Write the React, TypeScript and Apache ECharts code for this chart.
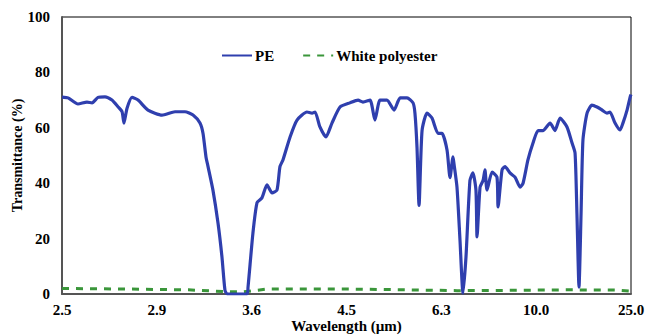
import React, { useEffect, useRef } from "react";
import * as echarts from "echarts";

// Wavenumber (cm^-1) positions of x ticks and their wavelength labels (µm)
const xTickWavenumbers = [4000, 3400, 2800, 2200, 1600, 1000, 400];
const xTickLabels = ["2.5", "2.9", "3.6", "4.5", "6.3", "10.0", "25.0"];

// PE transmittance spectrum: [wavenumber, transmittance %]
const peWavenumber = [
  4000, 3962, 3899, 3842, 3810, 3772, 3728, 3684, 3646, 3620, 3608, 3589, 3557, 3519,
  3456, 3367, 3285, 3222, 3171, 3127, 3108, 3089, 3076, 3045, 3013, 2988, 2969, 2955,
  2830, 2823, 2792, 2766, 2735, 2703, 2671, 2640, 2621, 2602, 2557, 2513, 2450, 2418,
  2399, 2368, 2330, 2292, 2241, 2178, 2127, 2096, 2051, 2020, 1988, 1944, 1899, 1861,
  1817, 1779, 1767, 1754, 1741, 1722, 1691, 1659, 1621, 1596, 1564, 1545, 1526, 1520,
  1501, 1482, 1463, 1444, 1419, 1400, 1381, 1374, 1355, 1336, 1324, 1311, 1279, 1248,
  1241, 1216, 1197, 1166, 1134, 1102, 1083, 1052, 1020, 988, 957, 912, 881, 849, 805,
  773, 754, 742, 729, 716, 704, 678, 647, 615, 583, 552, 533, 501, 470, 451, 425, 406, 400,
];
const peTransmittance = [
  71.1, 70.8, 68.6, 69.3, 69.0, 71.0, 71.2, 70.0, 67.6, 65.8, 61.7, 67.0, 71.0, 70.0,
  66.4, 64.6, 65.8, 65.8, 64.6, 61.7, 58.0, 49.5, 46.0, 37.5, 25.6, 13.4, 1.4, 0.0,
  0.0, 2.5, 22.0, 33.0, 34.7, 39.4, 36.5, 37.5, 46.0, 48.4, 56.7, 62.8, 65.7, 65.3,
  65.7, 60.3, 56.7, 61.7, 67.5, 69.0, 70.0, 69.3, 70.0, 62.8, 70.0, 70.0, 66.4, 70.8,
  70.8, 69.0, 65.3, 53.0, 32.0, 59.0, 65.3, 63.5, 58.0, 58.0, 52.0, 42.0, 49.5, 47.0,
  38.6, 19.5, 0.3, 13.4, 41.0, 43.7, 37.5, 20.6, 38.6, 41.0, 44.8, 37.5, 44.0, 42.2,
  31.4, 44.8, 46.0, 43.7, 42.2, 38.6, 40.0, 48.4, 54.5, 59.0, 59.0, 61.7, 59.0, 63.5, 60.3,
  54.5, 50.9, 29.0, 2.5, 29.0, 55.6, 65.3, 68.2, 67.5, 66.4, 65.3, 65.7, 61.7, 59.2, 61.7, 66.4, 71.0, 72.0,
];

// White polyester transmittance: [wavenumber, transmittance %]
const polyWavenumber = [4000, 3600, 3200, 2950, 2850, 2700, 2200, 1800, 1500, 1200, 800, 500, 400];
const polyTransmittance = [2.0, 1.8, 1.5, 0.8, 0.8, 1.8, 1.8, 1.5, 1.2, 1.3, 1.5, 1.4, 1.0];

const FONT = "'Liberation Serif', 'Times New Roman', serif";

export default function App() {
  const ref = useRef<HTMLDivElement>(null);
  useEffect(() => {
    if (!ref.current) return;
    const chart = echarts.init(ref.current, null, { renderer: "svg" });
    const peData = peWavenumber.map((w, i) => [w, peTransmittance[i]]);
    const polyData = polyWavenumber.map((w, i) => [w, polyTransmittance[i]]);
    chart.setOption({
      animation: false,
      backgroundColor: "#fff",
      grid: {
        left: 62,
        right: 15,
        top: 17,
        bottom: 41,
        show: true,
        borderColor: "#000",
        borderWidth: 1,
        containLabel: false,
        outerBoundsMode: "none",
      },
      legend: {
        top: 43,
        left: 216,
        itemGap: 28,
        itemWidth: 30,
        itemHeight: 10,
        itemStyle: { opacity: 0 },
        textStyle: { fontFamily: FONT, fontWeight: "bold", fontSize: 15, color: "#000", padding: [0, 0, 0, -2] },
        data: ["PE", "White polyester"],
      },
      xAxis: {
        type: "value",
        min: 400,
        max: 4000,
        inverse: true,
        name: "Wavelength (µm)",
        nameLocation: "middle",
        nameGap: 24,
        nameMoveOverlap: false,
        nameTextStyle: { fontFamily: FONT, fontWeight: "bold", fontSize: 15, color: "#000" },
        axisLine: { show: true, onZero: false, lineStyle: { color: "#555", width: 2 } },
        axisTick: { show: false },
        splitLine: { show: false },
        axisLabel: {
          customValues: xTickWavenumbers,
          margin: 8,
          fontFamily: FONT,
          fontWeight: "bold",
          fontSize: 15,
          color: "#000",
          formatter: (v: number) => {
            const i = xTickWavenumbers.indexOf(v);
            return i >= 0 ? xTickLabels[i] : "";
          },
        },
      },
      yAxis: {
        type: "value",
        min: 0,
        max: 100,
        interval: 20,
        name: "Transmittance (%)",
        nameLocation: "middle",
        nameGap: 38,
        nameMoveOverlap: false,
        nameTextStyle: { fontFamily: FONT, fontWeight: "bold", fontSize: 14, color: "#000" },
        axisLine: { show: true, lineStyle: { color: "#555", width: 2 } },
        axisTick: { show: false },
        splitLine: { show: false },
        axisLabel: { margin: 12, fontFamily: FONT, fontWeight: "bold", fontSize: 15, color: "#000" },
      },
      series: [
        {
          name: "PE",
          type: "line",
          data: peData,
          symbol: "none",
          smooth: 0.2,
          lineStyle: { color: "#2F3FAE", width: 3.2 },
          itemStyle: { color: "#2F3FAE" },
          z: 3,
        },
        {
          name: "White polyester",
          type: "line",
          data: polyData,
          symbol: "none",
          lineStyle: { color: "#3A963A", width: 3, type: [7, 7] },
          itemStyle: { color: "#3A963A" },
          z: 2,
        },
      ],
    });
    return () => chart.dispose();
  }, []);
  return <div ref={ref} style={{ width: 646, height: 335, position: "absolute", left: 0, top: 0 }} />;
}
